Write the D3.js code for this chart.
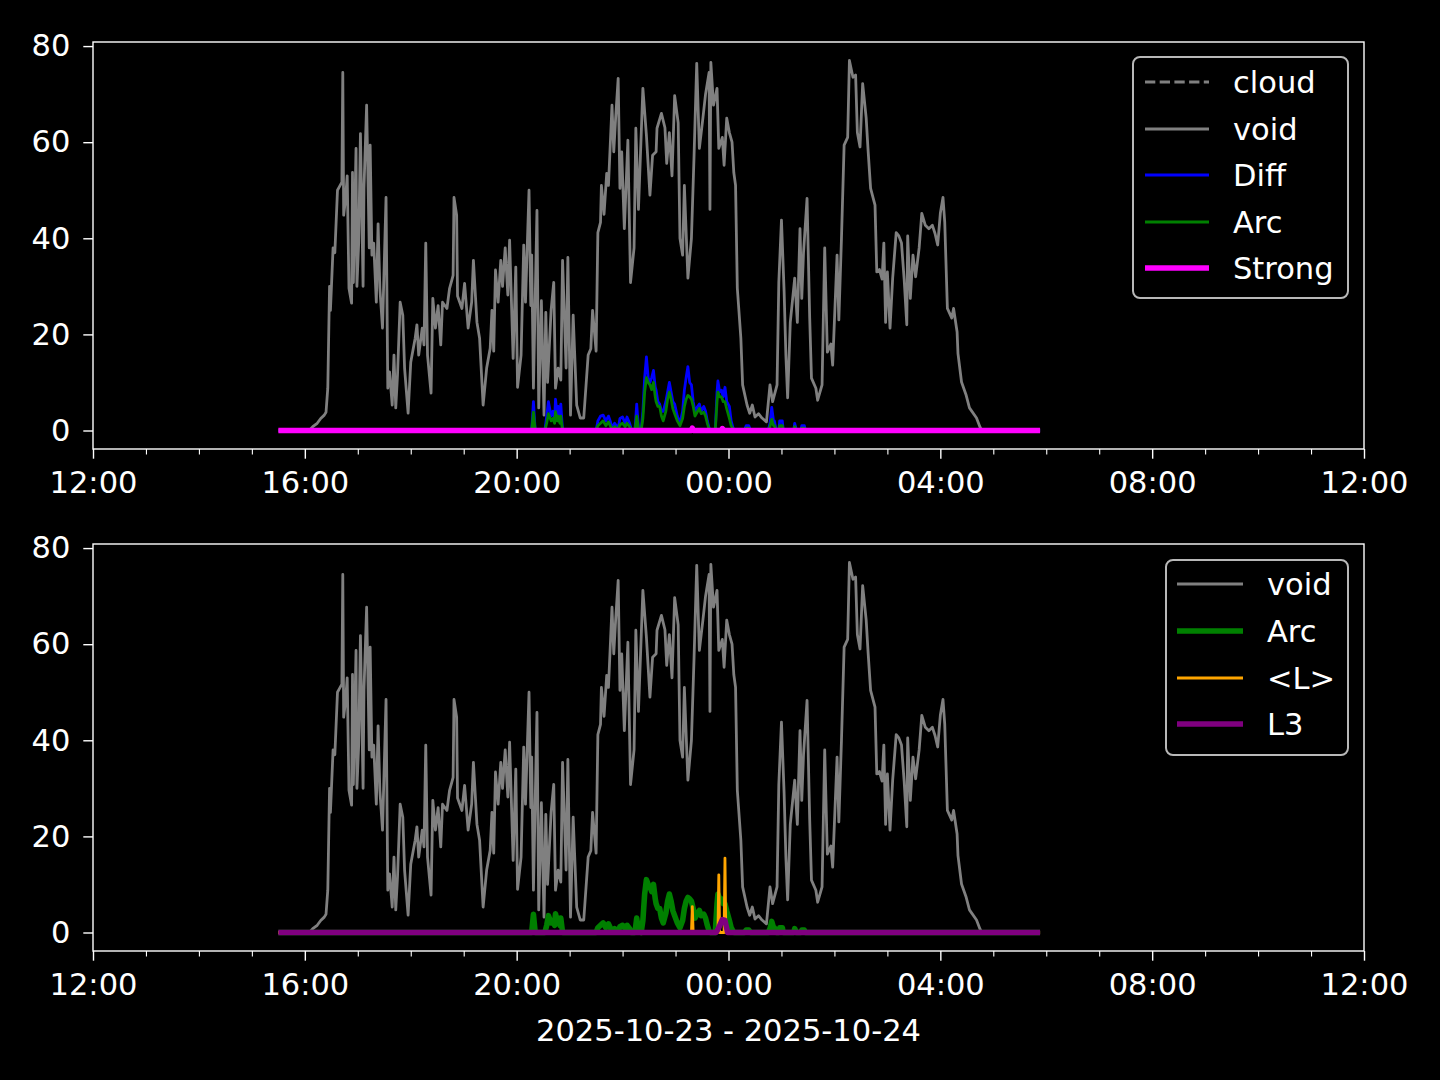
<!DOCTYPE html>
<html><head><meta charset="utf-8">
<script src="https://cdn.jsdelivr.net/npm/d3@7"></script>
<style>
html,body{margin:0;padding:0;background:#000;}
svg{display:block;}
text{font-family:"DejaVu Sans",sans-serif;fill:#fff;}
</style></head>
<body><svg id="chart" width="1440" height="1080"></svg>
<script>
// ---------- DATA ----------
const xTickLabels = ["12:00","16:00","20:00","00:00","04:00","08:00","12:00"];
const yTickValues = [0,20,40,60,80];
const xAxisLabel = "2025-10-23 - 2025-10-24";

const voidTimes = ["15:30","16:05","16:09","16:14","16:18","16:22","16:24","16:26","16:28","16:29","16:32","16:34","16:37","16:40","16:42","16:43","16:44","16:46","16:48","16:50","16:53","16:54","16:55","16:58","16:59","17:01","17:03","17:06","17:07","17:10","17:13","17:14","17:16","17:18","17:21","17:23","17:25","17:28","17:32","17:34","17:36","17:39","17:41","17:43","17:45","17:48","17:51","17:53","17:57","18:00","18:05","18:07","18:09","18:13","18:15","18:17","18:19","18:23","18:25","18:28","18:31","18:34","18:36","18:41","18:44","18:48","18:49","18:52","18:53","18:58","19:01","19:05","19:09","19:11","19:15","19:18","19:22","19:26","19:30","19:32","19:34","19:36","19:39","19:42","19:44","19:47","19:50","19:52","19:56","19:59","20:01","20:05","20:08","20:10","20:14","20:16","20:17","20:19","20:23","20:25","20:28","20:31","20:33","20:35","20:39","20:42","20:44","20:47","20:50","20:52","20:56","20:58","21:01","21:04","21:08","21:12","21:16","21:21","21:24","21:26","21:30","21:32","21:35","21:36","21:39","21:42","21:44","21:48","21:50","21:52","21:55","21:57","21:59","22:02","22:06","22:09","22:13","22:15","22:18","22:23","22:27","22:31","22:34","22:38","22:39","22:44","22:48","22:50","22:53","22:56","22:59","23:03","23:05","23:08","23:10","23:14","23:18","23:21","23:24","23:27","23:31","23:34","23:38","23:39","23:40","23:43","23:47","23:49","23:53","23:55","23:58","00:01","00:04","00:06","00:08","00:10","00:14","00:16","00:21","00:24","00:27","00:30","00:34","00:38","00:43","00:47","00:50","00:55","00:57","01:00","01:03","01:05","01:07","01:10","01:15","01:18","01:21","01:23","01:25","01:29","01:32","01:34","01:39","01:41","01:46","01:49","01:52","01:56","01:58","02:03","02:05","02:08","02:11","02:15","02:17","02:21","02:24","02:26","02:29","02:32","02:36","02:38","02:41","02:46","02:48","02:51","02:54","02:56","02:58","03:00","03:03","03:06","03:10","03:13","03:16","03:19","03:22","03:23","03:26","03:29","03:32","03:36","03:39","03:43","03:47","03:51","03:54","03:57","04:00","04:03","04:05","04:08","04:13","04:15","04:19","04:20","04:24","04:29","04:33","04:41","04:45","04:47","05:53"];
const voidValues = [0,0,0.8,1.5,2.5,3.2,3.8,8.8,30,25,38,37,50,51,51.7,74.5,44.8,48,53,29.6,26.5,53.7,30.8,58.7,30,39,61.8,30,50.4,67.7,38,59.4,36.5,39,26.7,43,29.6,21.3,48.5,8.8,12.2,5.3,15.7,4.7,11.5,26.7,24,13,3.6,14.2,19.2,22,15.7,21.3,17.8,39,15.7,7.8,27.5,21.3,26,17.8,26.7,25.4,29.6,32.3,48.5,44.8,28,25.4,30.6,21.3,26.7,35.4,22.5,19.2,5.3,13,17.1,25,16.5,33.4,26.7,35.4,30,38,28.2,39.6,15,34,9,15.7,38.6,26.7,50,26,36.5,8.8,45.8,4.7,27,3.2,24.6,10,25,30.8,8.8,13,10.5,35.4,13,36,3.2,24,5.3,2.6,2.6,15.7,17,25,16.5,41.2,43.3,51,45,53.5,51,67.7,58,64.6,73.3,50.4,58,42,60.4,30.8,38,62.9,46,71.2,61.4,49,57.3,58,62.9,66,63,55.6,62,53,69.7,64,40,36.5,51,31.7,40,57.3,76.4,58.7,65,70,74.5,46,76.6,67.7,71.2,58.7,61,55.2,65,62,60,53.7,51,29.6,19.2,9.5,5.3,3.6,5.3,2.8,3.5,2.6,1.8,9.5,6,9.5,30.8,43.8,29,15.7,6.8,22.5,31.7,22.5,42,27.5,37,48.3,23.4,10.9,8.8,6.3,9.5,38,16.3,18,13.6,36.5,23,40,59.4,61,77,73.5,74,62,59,72.2,65,58.7,50.4,46.9,33,33.5,31.5,39,22.5,33,21.3,31.7,41.2,40.5,39,31.5,22,40.5,27.5,36.5,32,38,45.2,42.7,42,42.7,41,38.6,45.2,48.5,43.3,25.4,23.4,25.4,20.5,16,10.1,7.5,4.7,2.6,0.7,0,0];

const arcTimes = ["15:30","20:10","20:17","20:19","20:21","20:32","20:34","20:36","20:39","20:41","20:43","20:44","20:46","20:47","20:49","20:50","20:52","21:30","21:32","21:35","21:38","21:41","21:44","21:46","21:48","21:51","21:55","21:57","22:00","22:03","22:05","22:08","22:10","22:14","22:16","22:18","22:21","22:23","22:25","22:27","22:29","22:31","22:33","22:35","22:37","22:38","22:40","22:42","22:44","22:46","22:49","22:51","22:53","22:55","22:57","22:59","23:02","23:05","23:08","23:10","23:12","23:14","23:16","23:18","23:20","23:22","23:25","23:27","23:29","23:32","23:34","23:36","23:38","23:40","23:45","23:47","23:48","23:50","23:52","23:54","23:56","23:58","00:01","00:03","00:06","00:18","00:20","00:23","00:25","00:45","00:47","00:49","00:51","00:52","00:54","00:57","00:58","01:01","01:02","01:14","01:15","01:17","01:22","01:23","01:26","01:27","05:53"];
const diffValues = [0,0,0,6,0,0,3,6,3,4,2.5,6.5,3,5,2.5,5.5,0,0,2,3,3.2,2,3,2,0.5,1.5,0.5,2.5,2.8,1.5,2.8,1.5,0.2,0,5.5,0.5,0,4,11,15.3,11,10,11,12.5,9,8.4,6,5.5,4,4,6,8,10,8,6,5.5,3,1.5,4,8.4,11,13.3,10,9.5,6,4,5,5.5,4,5,4,2,0.5,0,0,8,10.3,8,8.4,7,9,6,5,2,0,0,1,1,0,0,1.5,4.8,2,2,0,0,2,2,0,0,1.5,0,0,1,1,0,0];
const arcValues = [0,0,0,3.8,0,0,1.5,3.5,2,2.5,1.5,3.9,2,3,1.5,3,0,0,1,1.5,2,1,1.8,1,0.2,0.8,0.2,1.2,1.5,0.8,1.5,0.8,0,0,3,0.3,0,2.5,8,11,10,9.5,8.5,10,7,6,5,5,3,2,4,6.5,8,6.5,4.5,3.5,2,1,2.5,5,6.5,7.3,7,6.5,5,3,4,4.6,3.5,3.8,3,1.5,0.3,0,0,6,8,7,7,6,6,4.5,2.5,1,0,0,0.5,0.5,0,0,0.8,2.3,1,1,0,0,1,1,0,0,0.8,0,0,0.5,0.5,0,0];

const cloudTimes = ["15:30","05:53"];
const cloudValues = [0,0];

const strongTimes = ["15:30","23:18","23:19","23:20","23:52","23:53","23:55","05:53"];
const strongValues = [0,0,0.5,0,0,0.4,0,0];

const lavgTimes = ["15:30","23:18","23:19","23:20","23:48","23:49","23:50","23:55","23:56","23:57","05:53"];
const lavgValues = [0,0,5.4,0,0,12,0,0,15.5,0,0];

const l3Times = ["15:30","23:46","23:49","23:53","23:56","23:59","05:53"];
const l3Values = [0,0,1,2.7,2.5,0,0];

// ---------- HELPERS ----------
function toDate(s){
  const [h,m] = s.split(":").map(Number);
  return new Date(2025, 9, h < 12 ? 24 : 23, h, m);
}
function series(times, values){ return times.map((t,i)=>({t:toDate(t), v:values[i]})); }

const FS = 30.5;
const svg = d3.select("#chart");
svg.append("rect").attr("width",1440).attr("height",1080).attr("fill","#000");

const x = d3.scaleTime()
  .domain([new Date(2025,9,23,12,0), new Date(2025,9,24,12,0)])
  .range([93, 1364]);
const majorTicks = xTickLabels.map((s,i)=>new Date(2025,9,23,12 + 4*i,0));
const minorTicks = d3.timeHour.range(new Date(2025,9,23,12), new Date(2025,9,24,12,1))
  .filter(d => d.getHours() % 4 !== 0);

function panel(top, bottom, lines, legend){
  const y = d3.scaleLinear().domain([-3.85, 80.85]).range([bottom, top]);
  const g = svg.append("g");
  const line = d3.line().x(d=>x(d.t)).y(d=>y(d.v));
  const clip = "clip" + top;
  svg.append("clipPath").attr("id",clip).append("rect")
    .attr("x",93).attr("y",top).attr("width",1364-93).attr("height",bottom-top);
  const plot = g.append("g").attr("clip-path",`url(#${clip})`);
  lines.forEach(L=>{
    plot.append("path").datum(series(L.times,L.values))
      .attr("d",line).attr("fill","none").attr("stroke",L.color)
      .attr("stroke-width",L.w).attr("stroke-linejoin","round")
      .attr("stroke-dasharray",L.dash||null);
  });
  // spines
  g.append("rect").attr("x",93).attr("y",top).attr("width",1364-93).attr("height",bottom-top)
    .attr("fill","none").attr("stroke","#fff").attr("stroke-width",1.4);
  // y axis
  const ya = g.append("g").attr("transform","translate(93,0)")
    .call(d3.axisLeft(y).tickValues(yTickValues).tickFormat(d3.format("d")).tickSize(9.7).tickPadding(13));
  ya.select(".domain").remove();
  ya.selectAll("line").attr("stroke","#fff").attr("stroke-width",1.4);
  ya.selectAll("text").attr("fill","#fff").style("font-size",FS+"px").style("font-family","DejaVu Sans");
  // x axis major
  const xa = g.append("g").attr("transform",`translate(0,${bottom})`)
    .call(d3.axisBottom(x).tickValues(majorTicks).tickFormat((d,i)=>xTickLabels[i]).tickSize(9.7).tickPadding(13));
  xa.select(".domain").remove();
  xa.selectAll("line").attr("stroke","#fff").attr("stroke-width",1.4);
  xa.selectAll("text").attr("fill","#fff").style("font-size",FS+"px").style("font-family","DejaVu Sans");
  // x axis minor
  const xm = g.append("g").attr("transform",`translate(0,${bottom})`)
    .call(d3.axisBottom(x).tickValues(minorTicks).tickFormat("").tickSize(5.5));
  xm.select(".domain").remove();
  xm.selectAll("line").attr("stroke","#fff").attr("stroke-width",1.1);

  // legend
  const lg = g.append("g");
  lg.append("rect").attr("x",legend.x0).attr("y",legend.y0)
    .attr("width",legend.x1-legend.x0).attr("height",legend.y1-legend.y0)
    .attr("rx",7).attr("fill","#000").attr("fill-opacity",0.8)
    .attr("stroke","#b8b8b8").attr("stroke-width",2);
  legend.items.forEach((it,i)=>{
    const cy = legend.rows[i];
    lg.append("line").attr("x1",legend.h0).attr("x2",legend.h1).attr("y1",cy).attr("y2",cy)
      .attr("stroke",it.color).attr("stroke-width",it.w).attr("stroke-dasharray",it.dash||null);
    lg.append("text").attr("x",legend.tx).attr("y",cy).attr("dy","0.36em")
      .style("font-size",FS+"px").text(it.name);
  });
}

const C = {gray:"#808080", blue:"#0000ff", green:"#008000", magenta:"#ff00ff", orange:"#ffa500", purple:"#800080"};

const topLines = [
  {name:"cloud", times:cloudTimes, values:cloudValues, color:C.gray, w:2.78, dash:"10.3,4.4"},
  {name:"void", times:voidTimes, values:voidValues, color:C.gray, w:2.78},
  {name:"Diff", times:arcTimes, values:diffValues, color:C.blue, w:2.78},
  {name:"Arc", times:arcTimes, values:arcValues, color:C.green, w:2.78},
  {name:"Strong", times:strongTimes, values:strongValues, color:C.magenta, w:5.56}
];
panel(42, 449, topLines, {
  x0:1133, x1:1348, y0:57, y1:298, h0:1145, h1:1209, tx:1233,
  rows:[82,129,175,222,268],
  items:topLines.map(l=>({name:l.name,color:l.color,w:l.w,dash:l.dash}))
});

const botLines = [
  {name:"void", times:voidTimes, values:voidValues, color:C.gray, w:2.78},
  {name:"Arc", times:arcTimes, values:arcValues, color:C.green, w:5.56},
  {name:"<L>", times:lavgTimes, values:lavgValues, color:C.orange, w:2.78},
  {name:"L3", times:l3Times, values:l3Values, color:C.purple, w:5.56}
];
panel(544, 951, botLines, {
  x0:1166, x1:1348, y0:560, y1:755, h0:1177, h1:1243, tx:1267,
  rows:[584,631,678,724],
  items:botLines.map(l=>({name:l.name,color:l.color,w:l.w}))
});

svg.append("text").attr("x",728.5).attr("y",1030).attr("dy","0.36em")
  .attr("text-anchor","middle").style("font-size",FS+"px").text(xAxisLabel);
</script>
</body></html>
